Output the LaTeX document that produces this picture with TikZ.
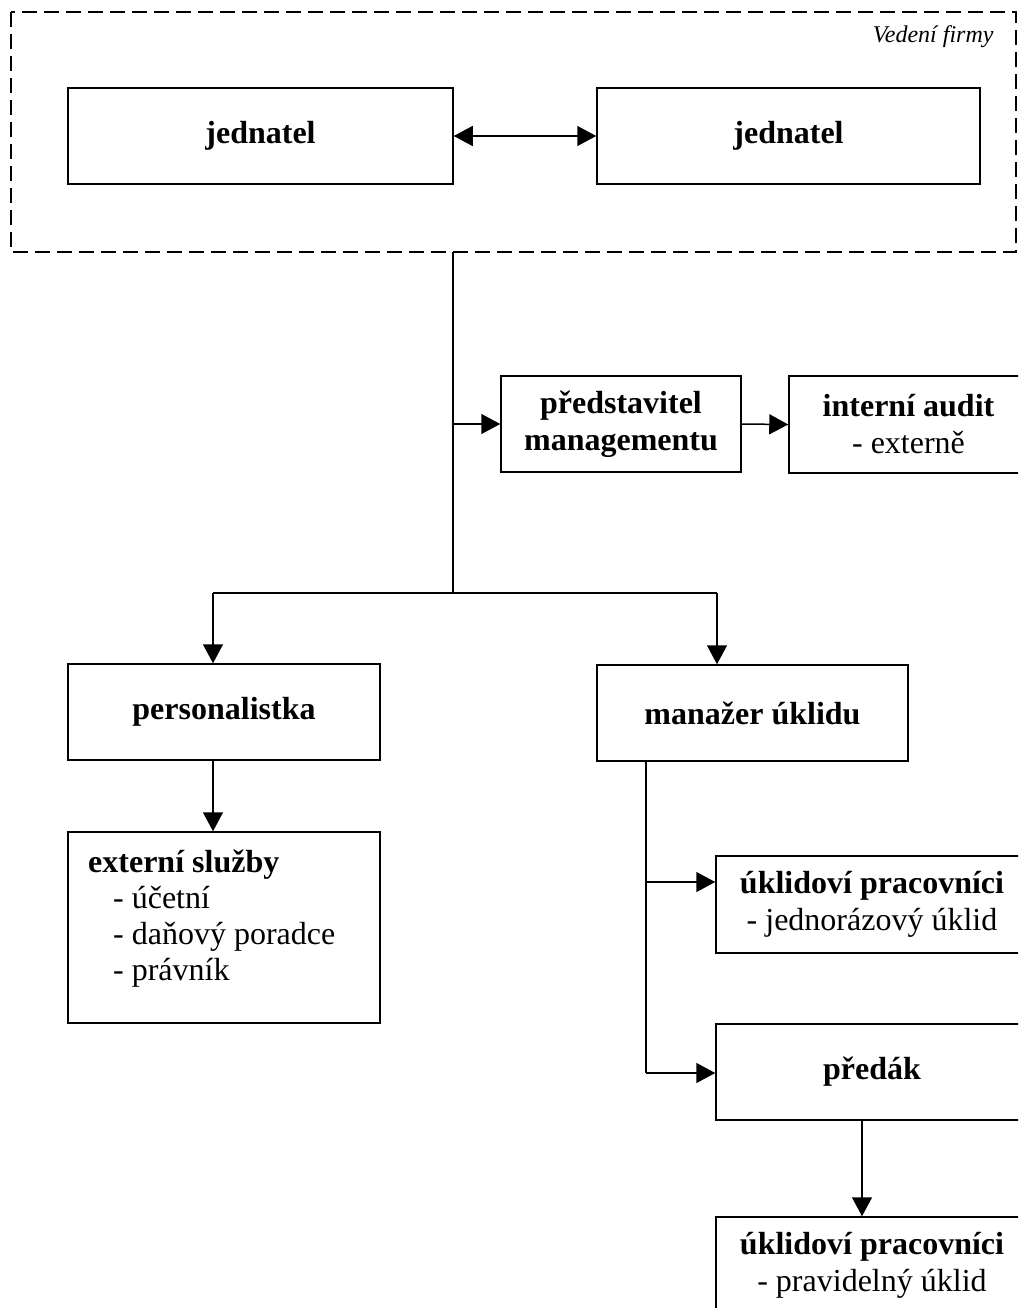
\documentclass[tikz,border=0pt]{standalone}
\usepackage{fontspec}
\setmainfont{Liberation Serif}
\usetikzlibrary{arrows.meta}

\tikzset{
  unitbox/.style={draw, line width=1.5pt, rectangle, inner sep=0pt, align=center,
    font=\fontsize{32}{37}\selectfont},
  wire/.style={line width=1.5pt},
  arr/.style={wire, -{Triangle[length=19pt,width=20pt]}},
  dbl/.style={wire, {Triangle[length=19pt,width=20pt]}-{Triangle[length=19pt,width=20pt]}},
  frame/.style={line width=1.4pt, dash pattern=on 15pt off 7pt},
}

\begin{document}
\begin{tikzpicture}[x=1pt, y=-1pt]
  \useasboundingbox (0,0) rectangle (1018,1308);
  \clip (0,0) rectangle (1018,1308);
  \fill[white] (0,0) rectangle (1018,1308);

  % company management group
  \draw[frame] (11,12) rectangle (1016,252);
  \node[anchor=base east, font=\itshape\fontsize{24}{28}\selectfont] (vedeni) at (997,43) {Vedení firmy};

  \node[unitbox, minimum width=385pt, minimum height=96pt] (jl) at (260.5,136) {\textbf{jednatel}};
  \node[unitbox, minimum width=383pt, minimum height=96pt] (jr) at (788.5,136) {\textbf{jednatel}};
  \draw[dbl] (jl.east) -- (jr.west);

  % management representative and audit
  \node[unitbox, minimum width=240pt, minimum height=96pt] (rep) at (621,424) {\textbf{představitel}\\\textbf{managementu}};
  \node[unitbox, minimum width=239pt, minimum height=97pt] (audit) at (908.5,424.5) {\textbf{interní audit}\\- externě};

  % departments
  \node[unitbox, minimum width=312pt, minimum height=96pt] (person) at (224,712) {\textbf{personalistka}};
  \node[unitbox, minimum width=311pt, minimum height=96pt] (manager) at (752.5,713) {\textbf{manažer úklidu}};

  \node[draw, line width=1.5pt, rectangle, minimum width=312pt, minimum height=191pt] (ext) at (224,927.5) {};
  % the base anchor of a multi-line node sits on its last line
  \node[anchor=base west, align=left, inner sep=0pt, font=\fontsize{32}{36}\selectfont] (exttext) at (88,980)
    {\textbf{externí služby}\\\hspace*{25pt}- účetní\\\hspace*{25pt}- daňový poradce\\\hspace*{25pt}- právník};

  % cleaning staff
  \node[unitbox, minimum width=312pt, minimum height=97pt] (clean1) at (872,904.5) {\textbf{úklidoví pracovníci}\\- jednorázový úklid};
  \node[unitbox, minimum width=312pt, minimum height=96pt] (foreman) at (872,1072) {\textbf{předák}};
  \node[unitbox, minimum width=312pt, minimum height=97pt] (clean2) at (872,1265.5) {\textbf{úklidoví pracovníci}\\- pravidelný úklid};

  % trunk from the management group
  \coordinate (trunktop) at (453,252);
  \coordinate (repjoin) at (453,424);
  \coordinate (fork) at (453,593);
  \coordinate (forkl) at (213,593);
  \coordinate (forkr) at (717,593);
  \draw[wire] (trunktop) -- (fork);
  \draw[arr] (repjoin) -- (rep.west);
  \draw[arr] (rep.east) -- (audit.west);
  \draw[wire] (forkl) -- (forkr);
  \draw[arr] (forkl) -- (forkl |- person.north);
  \draw[arr] (forkr) -- (forkr |- manager.north);
  \draw[arr] (forkl |- person.south) -- (forkl |- ext.north);

  % branch below the cleaning manager
  \coordinate (mtrunk) at (646,762);
  \coordinate (mj1) at (646,882);
  \coordinate (mj2) at (646,1073);
  \draw[wire] (mtrunk |- manager.south) -- (mj2);
  \draw[arr] (mj1) -- (mj1 -| clean1.west);
  \draw[arr] (mj2) -- (mj2 -| foreman.west);
  \coordinate (fdown) at (862,1120);
  \draw[arr] (fdown |- foreman.south) -- (fdown |- clean2.north);
\end{tikzpicture}
\end{document}
